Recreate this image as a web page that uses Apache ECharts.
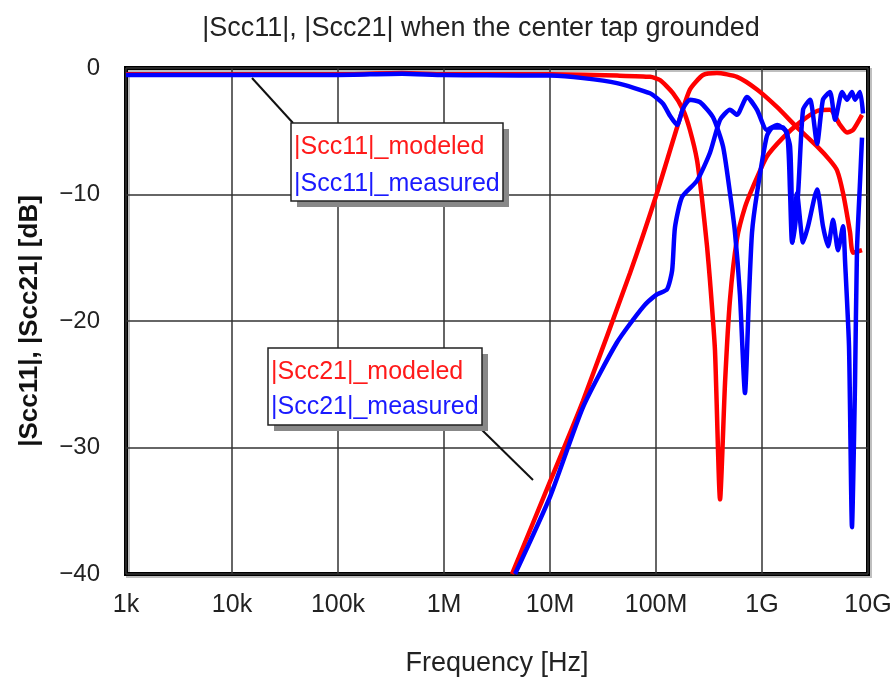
<!DOCTYPE html>
<html>
<head>
<meta charset="utf-8">
<script src="https://cdn.jsdelivr.net/npm/echarts@6/dist/echarts.min.js"></script>
<style>
  html, body { margin: 0; padding: 0; background: #fff; }
  #chart { width: 895px; height: 677px; }
</style>
</head>
<body>
<div id="chart"></div>
<script>
// tick labels for the log frequency axis (1k .. 10G)
const freqTickLabels = ['1k', '10k', '100k', '1M', '10M', '100M', '1G', '10G'];

// [frequency Hz, dB]
const scc11Modeled = [
  [1e3, -0.5], [1e5, -0.5], [4e5, -0.4], [1e6, -0.5], [1e7, -0.5], [4.3e7, -0.6],
  [8.8e7, -0.7], [1.09e8, -0.95], [1.45e8, -2.0], [1.8e8, -3.3], [2.09e8, -4.9],
  [2.44e8, -7.3], [2.72e8, -10.4], [3.03e8, -14.1], [3.23e8, -16.8], [3.6e8, -22.3],
  [4.02e8, -34.1], [4.48e8, -24.9], [4.99e8, -18.3], [5.81e8, -13.5], [6.91e8, -11],
  [8.22e8, -9.4], [1.11e9, -7.0], [1.58e9, -5.5], [2.28e9, -4.3], [3.31e9, -3.4],
  [4.38e9, -3.3], [5.45e9, -4.5], [6.34e9, -5.1], [7.22e9, -4.9], [8.78e9, -3.7]
];

const scc11Measured = [
  [1e3, -0.55], [1e5, -0.55], [4e5, -0.45], [1e6, -0.55], [1e7, -0.6], [2.05e7, -0.8],
  [4.28e7, -1.2], [8.77e7, -2.0], [1.16e8, -2.8], [1.36e8, -3.8], [1.58e8, -4.5],
  [1.8e8, -3.2], [2.09e8, -2.5], [2.6e8, -2.7], [3.45e8, -3.9], [4.29e8, -6.2],
  [4.99e8, -9.9], [5.56e8, -13], [6.2e8, -18], [6.91e8, -25.7], [7.54e8, -18],
  [8.05e8, -13], [8.97e8, -9.9], [1.11e9, -5.4], [1.27e9, -4.7], [1.58e9, -4.7],
  [1.84e9, -6.2], [1.96e9, -13.8], [2.19e9, -9.9], [2.44e9, -3.3], [2.84e9, -2.5],
  [3.31e9, -6], [3.76e9, -2.5], [4.38e9, -1.9], [4.89e9, -4.1], [5.69e9, -1.9],
  [6.34e9, -2.5], [7.06e9, -1.9], [7.54e9, -2.5], [8.41e9, -1.9], [8.98e9, -3.6]
];

const scc21Modeled = [
  [4.38e6, -40], [1e7, -32.7], [2.05e7, -26.3], [5.69e7, -16.2], [1.02e8, -9.9],
  [1.58e8, -4.7], [2.09e8, -1.7], [2.78e8, -0.55], [3.76e8, -0.4], [5.81e8, -0.7],
  [8.97e8, -1.7], [1.39e9, -3.1], [2.14e9, -4.7], [3.31e9, -6.2], [4.38e9, -7.3],
  [5.11e9, -8.1], [5.82e9, -9.9], [6.77e9, -13], [7.22e9, -14.6], [8.78e9, -14.4]
];

const scc21Measured = [
  [4.68e6, -40], [1e7, -33.9], [2.05e7, -26.8], [4.28e7, -21.7], [7.53e7, -18.9],
  [1.02e8, -17.9], [1.27e8, -17.5], [1.42e8, -16], [1.51e8, -12.6], [1.76e8, -10.2],
  [2.44e8, -8.9], [3.23e8, -6.7], [4.02e8, -4.1], [4.99e8, -3.3], [5.81e8, -3.7],
  [7.21e8, -2.3], [8.97e8, -3.3], [1.11e9, -4.9], [1.39e9, -4.5], [1.72e9, -5.1],
  [1.84e9, -9.9], [1.92e9, -13.8], [2.14e9, -9.9], [2.44e9, -13.8], [2.72e9, -12.5],
  [3.31e9, -9.6], [3.76e9, -12.5], [4.2e9, -14.1], [4.68e9, -12], [5.21e9, -14.4],
  [5.82e9, -12.5], [6.07e9, -15.2], [6.62e9, -22], [7.06e9, -36.3], [7.54e9, -25],
  [7.87e9, -14.4], [8.41e9, -9], [8.78e9, -5.5]
];

const chart = echarts.init(document.getElementById('chart'));

const textFont = '"Liberation Sans", Arial, sans-serif';
const lineW = 4.5;
const boxFont = '25px ' + textFont;

const option = {
  animation: false,
  backgroundColor: '#fff',
  title: {
    text: '|Scc11|, |Scc21| when the center tap grounded',
    left: 476,
    top: 10,
    textAlign: 'center',
    textStyle: { fontFamily: textFont, fontSize: 27, fontWeight: 'normal', color: '#222' }
  },
  grid: {
    left: 126,
    right: 27,
    top: 68,
    bottom: 103,
    outerBoundsMode: 'none',
    show: true,
    borderColor: '#000',
    borderWidth: 4,
    shadowColor: 'rgba(0,0,0,0.25)',
    shadowOffsetX: 2,
    shadowOffsetY: 2
  },
  xAxis: {
    type: 'log',
    logBase: 10,
    min: 1e3,
    max: 1e10,
    interval: 1,
    name: 'Frequency [Hz]',
    nameLocation: 'middle',
    nameGap: 76,
    nameTextStyle: { fontFamily: textFont, fontSize: 27, color: '#222' },
    axisLine: { show: false },
    axisTick: { show: false },
    axisLabel: {
      margin: 19,
      fontFamily: textFont,
      fontSize: 25,
      color: '#222',
      formatter: (v) => freqTickLabels[Math.round(Math.log10(v)) - 3] || ''
    },
    splitLine: { show: true, lineStyle: { color: '#333', width: 1.5 } }
  },
  yAxis: {
    type: 'value',
    min: -40,
    max: 0,
    interval: 10,
    name: '|Scc11|, |Scc21| [dB]',
    nameLocation: 'middle',
    nameGap: 83,
    nameTextStyle: { fontFamily: textFont, fontSize: 26, fontWeight: 'bold', color: '#111' },
    axisLine: { show: false },
    axisTick: { show: false },
    axisLabel: {
      margin: 26,
      fontFamily: textFont,
      fontSize: 24,
      color: '#222',
      formatter: (v) => (v === 0 ? '0' : '\u2212' + Math.abs(v))
    },
    splitLine: { show: true, lineStyle: { color: '#333', width: 1.5 } }
  },
  series: [
    { name: '|Scc11|_modeled', type: 'line', data: scc11Modeled, showSymbol: false,
      smooth: 0.2, lineStyle: { color: '#ff0000', width: lineW } },
    { name: '|Scc21|_modeled', type: 'line', data: scc21Modeled, showSymbol: false,
      smooth: 0.2, lineStyle: { color: '#ff0000', width: lineW } },
    { name: '|Scc11|_measured', type: 'line', data: scc11Measured, showSymbol: false,
      smooth: 0.2, lineStyle: { color: '#0000ff', width: lineW } },
    { name: '|Scc21|_measured', type: 'line', data: scc21Measured, showSymbol: false,
      smooth: 0.2, lineStyle: { color: '#0000ff', width: lineW } }
  ],
  graphic: [
    // callout 1 (Scc11)
    { type: 'line', shape: { x1: 252, y1: 78, x2: 293, y2: 123 }, style: { stroke: '#111', lineWidth: 2 }, z: 100 },
    { type: 'rect', shape: { x: 297, y: 129, width: 212, height: 78 }, style: { fill: '#888' }, z: 100 },
    { type: 'rect', shape: { x: 291, y: 123, width: 212, height: 78 }, style: { fill: '#fff', stroke: '#222', lineWidth: 1.5 }, z: 101 },
    { type: 'text', x: 294, y: 147, style: { text: '|Scc11|_modeled', fill: '#ff1a1a', font: boxFont, textVerticalAlign: 'middle' }, z: 102 },
    { type: 'text', x: 294, y: 184, style: { text: '|Scc11|_measured', fill: '#1a1aff', font: boxFont, textVerticalAlign: 'middle' }, z: 102 },
    // callout 2 (Scc21)
    { type: 'line', shape: { x1: 482, y1: 430, x2: 533, y2: 480 }, style: { stroke: '#111', lineWidth: 2 }, z: 100 },
    { type: 'rect', shape: { x: 274, y: 354, width: 214, height: 77 }, style: { fill: '#888' }, z: 100 },
    { type: 'rect', shape: { x: 268, y: 348, width: 214, height: 77 }, style: { fill: '#fff', stroke: '#222', lineWidth: 1.5 }, z: 101 },
    { type: 'text', x: 271, y: 372, style: { text: '|Scc21|_modeled', fill: '#ff1a1a', font: boxFont, textVerticalAlign: 'middle' }, z: 102 },
    { type: 'text', x: 271, y: 407, style: { text: '|Scc21|_measured', fill: '#1a1aff', font: boxFont, textVerticalAlign: 'middle' }, z: 102 }
  ]
};

chart.setOption(option);
</script>
</body>
</html>
